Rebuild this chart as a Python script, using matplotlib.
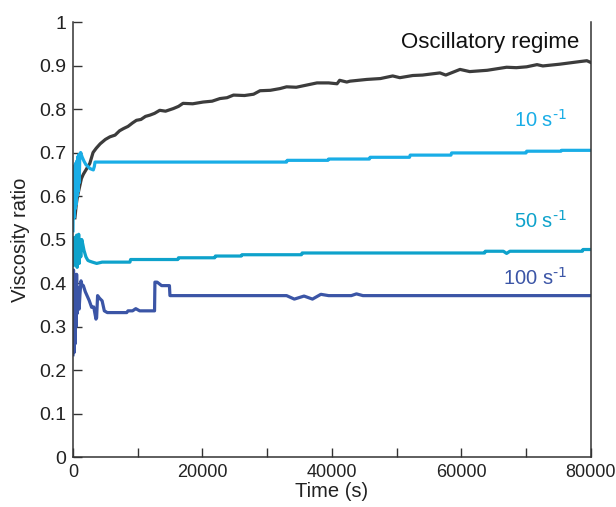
import matplotlib
matplotlib.use("Agg")
import matplotlib.pyplot as plt
from matplotlib.ticker import MultipleLocator

plt.rcParams['font.family'] = ['Liberation Sans', 'DejaVu Sans']
plt.rcParams['mathtext.default'] = 'regular'

# Oscillatory regime
t_osc = [300, 500, 700, 1000, 1300, 1600, 2000, 2600, 3100, 3600, 4200, 5000, 5700, 6500, 7200, 7800,
         8500, 9200, 9800, 10500, 11200, 11900, 12600, 13400, 14300, 15500, 16300, 17000, 18500, 20100,
         21500, 22700, 23800, 24800, 26500, 27900, 28900, 30500, 32000, 33000, 34500, 36100, 37700,
         39500, 40800, 41200, 42300, 42800, 45400, 47500, 49400, 50500, 52500, 54000, 56700, 57600,
         59800, 61300, 64000, 67000, 68500, 70100, 71700, 72600, 75200, 78300, 79400, 80000]
v_osc = [0.55, 0.58, 0.60, 0.62, 0.64, 0.65, 0.66, 0.675, 0.70, 0.71, 0.72, 0.73, 0.736, 0.74, 0.75, 0.755,
         0.76, 0.768, 0.774, 0.776, 0.783, 0.786, 0.79, 0.797, 0.795, 0.801, 0.806, 0.813, 0.812, 0.816,
         0.818, 0.824, 0.826, 0.832, 0.831, 0.834, 0.842, 0.843, 0.847, 0.851, 0.850, 0.855, 0.860,
         0.860, 0.858, 0.866, 0.862, 0.864, 0.868, 0.870, 0.876, 0.872, 0.877, 0.878, 0.883, 0.878,
         0.891, 0.886, 0.889, 0.896, 0.895, 0.897, 0.902, 0.899, 0.903, 0.909, 0.911, 0.907]

# 10 s-1
t_10 = [0, 80, 160, 240, 320, 400, 480, 560, 640, 720, 800, 880, 960, 1050, 1180, 1400, 1700, 2000, 2300,
        2630, 3140, 3300, 3400, 33000, 33100, 39400, 39500, 45800, 45900, 52000, 52100, 58400, 58500,
        70000, 70100, 75400, 75500, 80000]
v_10 = [0.52, 0.66, 0.55, 0.67, 0.57, 0.675, 0.58, 0.68, 0.60, 0.69, 0.61, 0.695, 0.63, 0.69, 0.70, 0.69,
        0.68, 0.672, 0.668, 0.663, 0.660, 0.668, 0.678, 0.678, 0.682, 0.682, 0.685, 0.685, 0.689, 0.689,
        0.694, 0.694, 0.699, 0.699, 0.703, 0.703, 0.705, 0.705]

# 50 s-1
t_50 = [0, 80, 160, 240, 320, 400, 480, 560, 640, 720, 800, 880, 960, 1050, 1200, 1350, 1500, 1700, 2000,
        2300, 2600, 3000, 3660, 4500, 8800, 8900, 16200, 16300, 21900, 22000, 26000, 26100, 35300, 35400,
        63600, 63700, 66500, 67000, 67500, 78700, 78800, 80000]
v_50 = [0.44, 0.50, 0.45, 0.505, 0.445, 0.50, 0.44, 0.51, 0.436, 0.505, 0.45, 0.512, 0.445, 0.50, 0.46,
        0.50, 0.49, 0.475, 0.46, 0.452, 0.45, 0.448, 0.445, 0.448, 0.448, 0.454, 0.454, 0.458, 0.458,
        0.462, 0.462, 0.465, 0.465, 0.469, 0.469, 0.473, 0.473, 0.468, 0.473, 0.473, 0.477, 0.477]

# 100 s-1
t_100 = [0, 80, 160, 240, 320, 400, 480, 560, 650, 800, 950, 1080, 1240, 1400, 1600, 1900, 2200, 2500,
         2880, 3200, 3550, 3650, 3800, 4100, 4500, 4840, 5300, 8300, 8500, 9200, 9700, 10300, 12600,
         12660, 13000, 13690, 14900, 14980, 33000, 34200, 35700, 37000, 38300, 39500, 43000, 43800,
         44800, 80000]
v_100 = [0.235, 0.43, 0.24, 0.42, 0.26, 0.40, 0.30, 0.42, 0.33, 0.39, 0.34, 0.375, 0.405, 0.395, 0.394,
         0.38, 0.37, 0.36, 0.344, 0.345, 0.317, 0.32, 0.371, 0.365, 0.359, 0.336, 0.332, 0.332, 0.336,
         0.336, 0.341, 0.336, 0.336, 0.402, 0.402, 0.394, 0.394, 0.371, 0.371, 0.363, 0.370, 0.363,
         0.374, 0.371, 0.371, 0.375, 0.371, 0.371]

x_ticks = [0, 20000, 40000, 60000, 80000]
x_ticklabels = ['0', '20000', '40000', '60000', '80000']
y_ticks = [0, 0.1, 0.2, 0.3, 0.4, 0.5, 0.6, 0.7, 0.8, 0.9, 1.0]
y_ticklabels = ['0', '0.1', '0.2', '0.3', '0.4', '0.5', '0.6', '0.7', '0.8', '0.9', '1']

c_osc = '#3c3c3c'
c_10 = '#19ade6'
c_50 = '#0ea2cb'
c_100 = '#3b55a6'

fig = plt.figure(figsize=(6.16, 5.07), dpi=100)
ax = fig.add_axes([0.1185, 0.0986, 0.8405, 0.8580])

lw = 2.3
ax.plot(t_osc, v_osc, color=c_osc, lw=lw, solid_joinstyle='round')
ax.plot(t_10, v_10, color=c_10, lw=lw, solid_joinstyle='round')
ax.plot(t_50, v_50, color=c_50, lw=lw, solid_joinstyle='round')
ax.plot(t_100, v_100, color=c_100, lw=lw, solid_joinstyle='round')

ax.set_xlim(0, 80000)
ax.set_ylim(0, 1)
ax.set_xticks(x_ticks)
ax.set_xticklabels(x_ticklabels)
ax.xaxis.set_minor_locator(MultipleLocator(10000))
ax.set_yticks(y_ticks)
ax.set_yticklabels(y_ticklabels)

ax.tick_params(axis='both', which='both', direction='in', length=6.5, width=1.0, color='#333333',
               labelcolor='#222222')
ax.tick_params(axis='y', which='both', right=False, pad=5, labelsize=14)
ax.tick_params(axis='x', which='both', top=False, pad=5, labelsize=13)

ax.spines['top'].set_visible(False)
for s in ['left', 'bottom', 'right']:
    ax.spines[s].set_color('#333333')
    ax.spines[s].set_linewidth(1.1)

ax.set_xlabel('Time (s)', fontsize=14.5, color='#222222', labelpad=1)
ax.set_ylabel('Viscosity ratio', fontsize=14.5, color='#222222', labelpad=6)

ax.text(78300, 0.954, 'Oscillatory regime', ha='right', va='center', fontsize=16, color='#111111')
ax.text(76300, 0.774, r'10 s$^{\text{-1}}$', ha='right', va='center', fontsize=14.5, color=c_10)
ax.text(76300, 0.544, r'50 s$^{\text{-1}}$', ha='right', va='center', fontsize=14.5, color=c_50)
ax.text(76300, 0.413, r'100 s$^{\text{-1}}$', ha='right', va='center', fontsize=14.5, color=c_100)

fig.savefig('out.png', dpi=100)
